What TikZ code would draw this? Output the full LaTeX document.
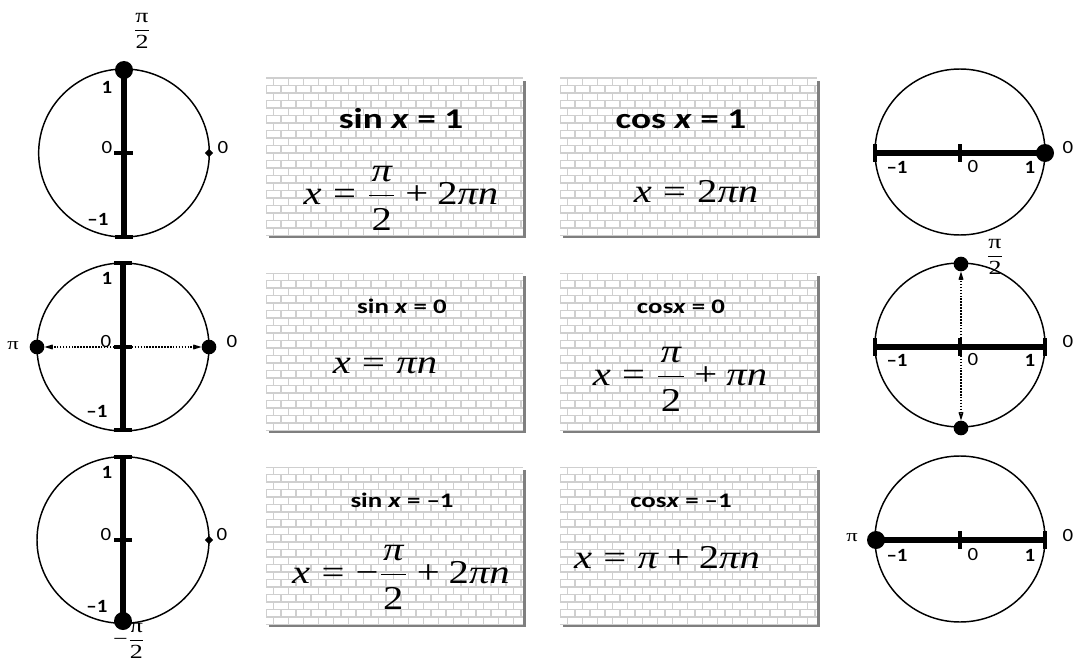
\documentclass[tikz,border=0pt]{standalone}
\usepackage{fontspec}
\usepackage{amsmath}
\usepackage{graphicx}
\setmainfont{Liberation Serif}
\newfontfamily\labf{Carlito}
\newfontfamily\serf{Liberation Serif}
\usetikzlibrary{arrows.meta,shapes.geometric}
\definecolor{shadowgray}{HTML}{7F7F7F}
\definecolor{mortar}{HTML}{CFCFCF}
\newcommand\wx[1]{\scalebox{1.3}[1]{#1}}
\newcommand\fx[1]{\scalebox{1.22}[1]{#1}}
\newcommand\lx[1]{\scalebox{1.12}[1]{#1}}
\newcommand\vI[1]{\mbox{\itshape #1}}
\newcommand\vR[1]{\mbox{#1}}
\newcommand\vEQ{\mathrel{\vR{=}}}
\newcommand\vPL{\mathbin{\vR{+}}}
\newcommand\vFR[3][0.8pt]{\genfrac{}{}{#1}{0}{#2}{#3}}
\newcommand\vFB[2]{\genfrac{}{}{1.1pt}{0}{\hspace{1.5pt}#1\hspace{1.5pt}\rule[-4pt]{0pt}{4pt}}{\rule{0pt}{22pt}#2}}
\newcommand\brickbox[5]{%
  \fill[shadowgray] ({#2+3},{#3+3}) rectangle ({#4+3},{#5+3});
  \node[boxn, minimum width={(#4-#2)*0.75pt}, minimum height={(#5-#3)*0.75pt}, anchor=north west] (#1) at (#2,#3) {};
  \begin{scope}
    \clip (#1.north west) rectangle (#1.south east);
    \foreach \r in {0,...,21}{
      \pgfmathsetmacro\yy{#3+\r*7.5}
      \pgfmathsetmacro\off{mod(\r,2)*7.5}
      \draw[brick] (#2,\yy) -- (#4,\yy);
      \draw[brick] \foreach \k in {0,...,18}{({#2+\off+\k*15-7.5},\yy) -- ++(0,7.5)};
    }
  \end{scope}}
\begin{document}
\begin{tikzpicture}[x=0.75pt,y=-0.75pt,
  ring/.style={line width=1.1pt},
  bar/.style={line width=4.5pt},
  tck/.style={line width=2.8pt},
  dotn/.style={circle,fill=black,inner sep=0pt,minimum size=11pt},
  bigdot/.style={circle,fill=black,inner sep=0pt,minimum size=13.5pt},
  dmd/.style={diamond,fill=black,inner sep=0pt,minimum size=6.5pt},
  lab/.style={font=\labf\fontsize{14}{16}\selectfont,inner sep=0pt},
  blab/.style={font=\labf\bfseries\fontsize{14}{16}\selectfont,inner sep=0pt},
  plab/.style={font=\serf\fontsize{15}{17}\selectfont,inner sep=0pt},
  ttl/.style={font=\labf\bfseries\fontsize{21.5}{24}\selectfont,inner sep=0pt,anchor=base},
  ttls/.style={font=\labf\bfseries\fontsize{15.5}{18}\selectfont,inner sep=0pt,anchor=base},
  fml/.style={font=\serf\fontsize{25}{29}\selectfont,inner sep=0pt,anchor=base},
  boxn/.style={fill=white,inner sep=0pt},
  brick/.style={draw=mortar,line width=0.8pt},
  darr/.style={line width=1.4pt,dash pattern=on 1.2pt off 1pt,-{Stealth[length=14pt,width=9pt,inset=9.5pt]}},
]
\useasboundingbox (0,0) rectangle (1075,667);
\fill[white] (0,0) rectangle (1075,667);

% ---------- brick boxes ----------
\brickbox{b1}{266}{78}{523}{235}
\brickbox{b2}{560}{78}{817}{235}
\brickbox{b3}{266}{273}{523}{430}
\brickbox{b4}{560}{273}{817}{430}
\brickbox{b5}{266}{467}{523}{624}
\brickbox{b6}{560}{467}{817}{624}

% titles
\node[ttl] (t1) at (401,128) {\wx{sin \textit{x} = 1}};
\node[ttl] (t2) at (681,128) {\wx{cos \textit{x} = 1}};
\node[ttls] (t3) at (402,313) {\wx{sin \textit{x} = 0}};
\node[ttls] (t4) at (681,313) {\wx{cos\textit{x} = 0}};
\node[ttls] (t5) at (402,507) {\wx{sin \textit{x} = –1}};
\node[ttls] (t6) at (681,507) {\wx{cos\textit{x} = –1}};

% formulas
\node[fml] (f1) at (401,204) {\fx{$\vI{x}\vEQ\vFB{\vI{π}}{\vR{2}}\vPL\vR{2}\vI{πn}$}};
\node[fml] (f2) at (696,202) {\fx{$\vI{x}\vEQ\vR{2}\vI{πn}$}};
\node[fml] (f3) at (385,373) {\fx{$\vI{x}\vEQ\vI{πn}$}};
\node[fml] (f4) at (680,385) {\fx{$\vI{x}\vEQ\vFB{\vI{π}}{\vR{2}}\vPL\vI{πn}$}};
\node[fml] (f5) at (401,583) {\fx{$\vI{x}\vEQ\vR{−}\vFB{\vI{π}}{\vR{2}}\vPL\vR{2}\vI{πn}$}};
\node[fml] (f6) at (667,568) {\fx{$\vI{x}\vEQ\vI{π}\vPL\vR{2}\vI{πn}$}};

% ---------- circle 1 (sin x = 1) ----------
\coordinate (c1) at (124,153);
\draw[ring] (c1) ellipse [x radius=64pt, y radius=63pt];
\coordinate (c1t) at (124,69);
\coordinate (c1b) at (124,237);
\draw[bar] (c1t) -- (c1b);
\draw[tck] (115,237) -- (133,237);
\draw[tck] (114,153) -- (133,153);
\node[bigdot] (d1) at (124,70) {};
\node[dmd] (m1) at (209,153) {};
\node[blab] (l1a) at (107,87) {\lx{1}};
\node[lab] (l1b) at (107,148) {\lx{0}};
\node[blab] (l1c) at (98,219) {\lx{–1}};
\node[lab] (l1d) at (223,148) {\lx{0}};
\node[plab] (p1) at (142,31) {\wx{$\vFR[0.5pt]{\vR{π}}{\vR{2}}$}};

% ---------- circle 2 (sin x = 0) ----------
\coordinate (c2) at (123,347);
\draw[ring] (c2) ellipse [x radius=64.5pt, y radius=63pt];
\coordinate (c2t) at (123,263);
\coordinate (c2b) at (123,430);
\draw[bar] (c2t) -- (c2b);
\draw[tck] (114,263) -- (132,263);
\draw[tck] (114,430) -- (132,430);
\draw[tck] (114,347) -- (132,347);
\node[lab] (l2b) at (106,342) {\lx{0}};
\node[dotn] (d2l) at (37,347) {};
\node[dotn] (d2r) at (209,347) {};
\draw[darr] (c2) -- (d2l);
\draw[darr] (c2) -- (d2r);
\node[blab] (l2a) at (107,278) {\lx{1}};
\node[blab] (l2c) at (97,411) {\lx{–1}};
\node[lab] (l2d) at (232,342) {\lx{0}};
\node[font=\serf\fontsize{13}{15}\selectfont,inner sep=0pt] (p2) at (13,346) {\wx{π}};

% ---------- circle 3 (sin x = -1) ----------
\coordinate (c3) at (123,540);
\draw[ring] (c3) ellipse [x radius=64.5pt, y radius=62.5pt];
\coordinate (c3t) at (123,457);
\coordinate (c3b) at (123,622);
\draw[bar] (c3t) -- (c3b);
\draw[tck] (114,457) -- (132,457);
\draw[tck] (114,540) -- (132,540);
\node[bigdot] (d3) at (123,621) {};
\node[dmd] (m3) at (209,540) {};
\node[blab] (l3a) at (107,472) {\lx{1}};
\node[lab] (l3b) at (106,535) {\lx{0}};
\node[blab] (l3c) at (97,606) {\lx{–1}};
\node[lab] (l3d) at (222,535) {\lx{0}};
\node[plab] (p3) at (129,641) {\wx{$\vR{−}\vFR[0.5pt]{\vR{π}}{\vR{2}}$}};

% ---------- circle 4 (cos x = 1) ----------
\coordinate (c4) at (960,152);
\draw[ring] (c4) ellipse [x radius=63.75pt, y radius=62.25pt];
\coordinate (c4l) at (875,153);
\coordinate (c4r) at (1045,153);
\draw[bar] (c4l) -- (c4r);
\draw[tck] (875,144) -- (875,162);
\draw[tck] (960,144) -- (960,162);
\node[bigdot] (d4) at (1045,153) {};
\node[blab] (l4a) at (897,167) {\lx{–1}};
\node[lab] (l4b) at (973,167) {\lx{0}};
\node[blab] (l4c) at (1030,167) {\lx{1}};
\node[lab] (l4d) at (1068,148) {\lx{0}};

% ---------- circle 5 (cos x = 0) ----------
\coordinate (c5) at (960,345);
\draw[ring] (c5) ellipse [x radius=63.75pt, y radius=61.5pt];
\coordinate (c5l) at (875,347);
\coordinate (c5r) at (1045,347);
\coordinate (c5m) at (961,347);
\draw[bar] (c5l) -- (c5r);
\draw[tck] (875,338) -- (875,356);
\draw[tck] (960,338) -- (960,356);
\draw[tck] (1045,338) -- (1045,356);
\node[dotn] (d5t) at (961,264) {};
\node[dotn] (d5b) at (961,428) {};
\draw[darr] (c5m) -- (d5t);
\draw[darr] (c5m) -- (d5b);
\node[blab] (l5a) at (897,360) {\lx{–1}};
\node[lab] (l5b) at (973,360) {\lx{0}};
\node[blab] (l5c) at (1030,360) {\lx{1}};
\node[lab] (l5d) at (1068,342) {\lx{0}};
\node[plab] (p5) at (995,257) {\wx{$\vFR[0.5pt]{\vR{π}}{\vR{2}}$}};

% ---------- circle 6 (cos x = -1) ----------
\coordinate (c6) at (960,539);
\draw[ring] (c6) ellipse [x radius=63.75pt, y radius=62.25pt];
\coordinate (c6l) at (876,540);
\coordinate (c6r) at (1045,540);
\draw[bar] (c6l) -- (c6r);
\draw[tck] (960,531) -- (960,549);
\draw[tck] (1045,531) -- (1045,549);
\node[bigdot] (d6) at (876,540) {};
\node[font=\serf\fontsize{13}{15}\selectfont,inner sep=0pt] (p6) at (852,538) {\wx{π}};
\node[blab] (l6a) at (897,555) {\lx{–1}};
\node[lab] (l6b) at (973,555) {\lx{0}};
\node[blab] (l6c) at (1030,555) {\lx{1}};
\node[lab] (l6d) at (1068,536) {\lx{0}};
\end{tikzpicture}
\end{document}
